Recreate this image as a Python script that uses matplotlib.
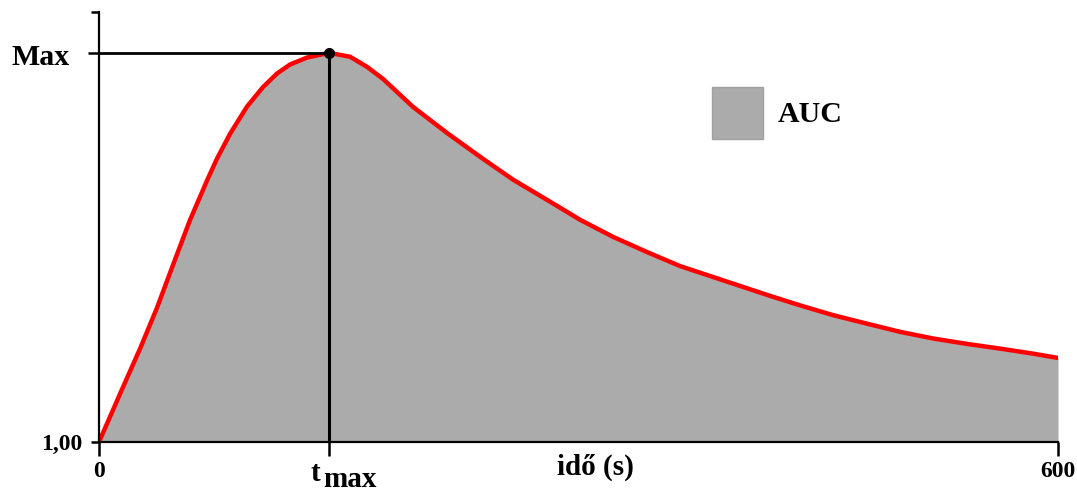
import matplotlib.pyplot as plt
from matplotlib.patches import Patch

# readings (time in s, signal in arbitrary units, baseline 1.00)
time_s = [0, 15.0, 25.7, 36.3, 46.3, 56.9, 67.6, 73.8, 82.0, 92.6, 102.6, 111.4,
          119.5, 130.2, 144.0, 157.1, 167.7, 177.7, 196.5, 217.8, 238.4, 259.1,
          280.4, 301.0, 321.7, 342.9, 363.6, 388.6, 418.0, 438.7, 459.3, 480.6,
          501.3, 521.9, 543.2, 563.8, 584.5, 600]
signal = [1.0, 1.141, 1.240, 1.345, 1.455, 1.570, 1.672, 1.728, 1.792, 1.862,
          1.912, 1.947, 1.970, 1.988, 2.0, 1.990, 1.964, 1.933, 1.861, 1.794,
          1.733, 1.674, 1.622, 1.571, 1.527, 1.488, 1.452, 1.418, 1.378, 1.351,
          1.326, 1.304, 1.283, 1.266, 1.252, 1.240, 1.227, 1.216]

t_max = 144.0
v_max = 2.0
baseline = 1.0
x_end = 600
y_top = 2.105

plt.rcParams['font.family'] = ['Liberation Serif', 'DejaVu Serif']
plt.rcParams['font.weight'] = 'bold'

fig = plt.figure(figsize=(10.77, 4.91), dpi=100)
ax = fig.add_axes([99 / 1077, 1 - 442 / 491, 959 / 1077, 430 / 491])

ax.fill_between(time_s, baseline, signal, color='#ababab', lw=0, zorder=1)
ax.plot(time_s, signal, color='#ff0000', lw=3.2, zorder=3,
        solid_capstyle='round', solid_joinstyle='round')

# Max / t_max guides
ax.hlines(v_max, 0, t_max, color='black', lw=2, zorder=4)
ax.vlines(t_max, baseline, v_max, color='black', lw=2.2, zorder=4)
ax.plot([t_max], [v_max], 'o', color='black', ms=7, zorder=5)

ax.set_xlim(0, x_end)
ax.set_ylim(baseline, y_top)

for s in ['top', 'right']:
    ax.spines[s].set_visible(False)
for s in ['left', 'bottom']:
    ax.spines[s].set_linewidth(1.6)
    ax.spines[s].set_zorder(6)

ax.set_xticks([0, t_max, x_end])
ax.set_xticklabels(['0', '', '600'], fontsize=17, fontweight='bold')
ax.tick_params(axis='x', direction='out', length=10, width=1.8, pad=4)

ax.set_yticks([baseline, v_max, y_top])
ax.set_yticklabels(['1,00', '', ''], fontsize=17, fontweight='bold')
ax.tick_params(axis='y', direction='out', length=6, width=1.8, pad=6)
ax.yaxis.get_major_ticks()[1].tick1line.set_markersize(8)

ax.annotate('Max', xy=(0, v_max), xycoords=('axes fraction', 'data'),
            xytext=(-21, -1), textcoords='offset points',
            ha='right', va='center_baseline', fontsize=21.5, fontweight='bold')

ax.annotate('t', xy=(t_max, 0), xycoords=('data', 'axes fraction'),
            xytext=(-6.5, -28), textcoords='offset points',
            ha='right', va='baseline', fontsize=21, fontweight='bold')
ax.annotate('max', xy=(t_max, 0), xycoords=('data', 'axes fraction'),
            xytext=(-4.3, -32.5), textcoords='offset points',
            ha='left', va='baseline', fontsize=21, fontweight='bold')

ax.set_xlabel('idő (s)', fontsize=21, fontweight='bold')
ax.xaxis.set_label_coords((595 - 99) / 959, -0.026)
ax.xaxis.label.set_va('top')

ax.legend(handles=[Patch(facecolor='#ababab', edgecolor='#a0a0a0', label='AUC')],
          loc='upper left', bbox_to_anchor=(712 / 1077, 1 - 87 / 491),
          bbox_transform=fig.transFigure, frameon=False, borderpad=0,
          borderaxespad=0, handlelength=1.7, handleheight=2.3,
          handletextpad=0.5, prop={'weight': 'bold', 'size': 21.5})

fig.savefig('out.png', dpi=100)
